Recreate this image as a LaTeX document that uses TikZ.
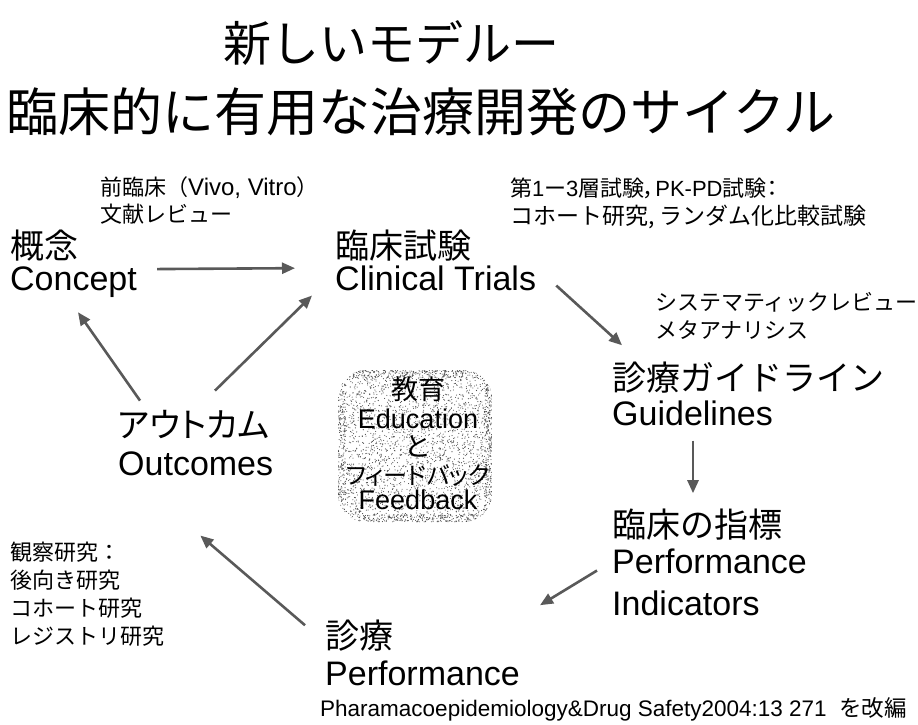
\documentclass[tikz,border=0pt]{standalone}
\usepackage{fontspec}
\setmainfont{Liberation Sans}
\newfontfamily\jp{Noto Sans CJK JP}
\newfontfamily\jpp[RawFeature=+palt]{Noto Sans CJK JP}
\newcommand\J[1]{{\jp #1}}
\usetikzlibrary{arrows.meta,calc}
\tikzset{
  big/.style={anchor=base west, inner sep=0pt, font=\fontsize{34}{40}\selectfont},
  bigj/.style={anchor=base west, inner sep=0pt, font=\jp\fontsize{34}{40}\selectfont},
  note/.style={anchor=base west, inner sep=0pt, font=\jp\fontsize{22}{26}\selectfont},
  boxtxt/.style={anchor=base, inner sep=0pt, font=\fontsize{27}{30}\selectfont},
  boxtxtj/.style={anchor=base, inner sep=0pt, font=\jp\fontsize{27}{30}\selectfont},
  flow/.style={draw=black!65, line width=2.6pt, -{Triangle[length=13pt,width=11pt]}},
  dot/.style={fill=black!70, sharp corners},
}
\begin{document}
\begin{tikzpicture}[x=1pt,y=-1pt]
\useasboundingbox (0,0) rectangle (918,724);
\fill[white] (0,0) rectangle (918,724);
\pgfmathsetseed{7}
% title
\node[anchor=base, inner sep=0pt, font=\jp\fontsize{48}{50}\selectfont] (t1) at (391,61) {新しいモデルー};
\node[anchor=base, inner sep=0pt, font=\jp\fontsize{52}{54}\selectfont] (t2) at (421,131) {臨床的に有用な治療開発のサイクル};
% centre box
\node[rounded corners=28pt, minimum width=154pt, minimum height=152pt, fill=white,
  path picture={
    \foreach \i in {1,...,2600}{
      \fill[dot] ($(path picture bounding box.center)+({77*rand},{76*rand})$) circle (0.55);
    }
    \foreach \i in {1,...,450}{
      \fill[dot] ($(path picture bounding box.center)+({77*rand},{76*(2*rnd>1?1:-1)*(1-0.1*rnd)})$) circle (0.55);
      \fill[dot] ($(path picture bounding box.center)+({77*(2*rnd>1?1:-1)*(1-0.1*rnd)},{76*rand})$) circle (0.55);
    }
  }] (edu) at (415,446) {};
\node[boxtxtj] (eduj) at (418,399) {教育};
\node[boxtxt] (edue) at (418,428) {Education};
\node[boxtxtj] (to) at (418,456) {と};
\node[anchor=base, inner sep=0pt, font=\jpp\fontsize{24}{28}\selectfont] (fbj) at (418,484) {フィードバック};
\node[boxtxt] (fbe) at (418,509) {Feedback};
% main stages
\node[bigj] (conceptJ) at (10,258) {概念};
\node[big] (conceptEn) at (10,290) {Concept};
\node[bigj] (trialsJ) at (335,258) {臨床試験};
\node[big] (trialsEn) at (335,290) {Clinical Trials};
\node[bigj] (guideJ) at (612,390) {診療ガイドライン};
\node[big] (guideEn) at (612,425) {Guidelines};
\node[bigj] (indicJ) at (612,537) {臨床の指標};
\node[big] (perfIEn) at (612,573) {Performance};
\node[big] (indicEn) at (612,615) {Indicators};
\node[bigj] (perfJ) at (325,648) {診療};
\node[big] (perfEn) at (325,685) {Performance};
\node[bigj, font=\jpp\fontsize{34}{40}\selectfont] (outJ) at (118,437) {アウトカム};
\node[big] (outEn) at (118,475) {Outcomes};
% annotations
\node[note] (n1a) at (100,195) {前臨床（{\fontspec{Liberation Sans}\fontsize{24}{26}\selectfont Vivo, Vitro}）};
\node[note] (n1b) at (100,222) {文献レビュー};
\node[note, font=\jpp\fontsize{22}{26}\selectfont] (n2a) at (510,196) {第{\fontspec{Liberation Sans}1}ー{\fontspec{Liberation Sans}3}層試験，{\fontspec{Liberation Sans}PK-PD}試験：};
\node[note, font=\jp\fontsize{23}{26}\selectfont] (n2b) at (510,224) {コホート研究, ランダム化比較試験};
\node[note] (n3a) at (655,310) {システマティックレビュー};
\node[note] (n3b) at (655,338) {メタアナリシス};
\node[note] (n4a) at (10,560) {観察研究：};
\node[note] (n4b) at (10,588) {後向き研究};
\node[note] (n4c) at (10,616) {コホート研究};
\node[note] (n4d) at (10,644) {レジストリ研究};
% footer
\node[anchor=base west, inner sep=0pt, font=\fontsize{22.5}{25}\selectfont] (foot) at (320,716) {Pharamacoepidemiology\&Drug Safety2004:13 271\ \ \J{を改編}};
% connectors
\draw[flow] ($(conceptEn.north east)+(20,3)$) -- ($(trialsEn.north west)+(-40,3)$);
\draw[flow] ($(trialsEn.south east)+(20,-5)$) -- ($(guideJ.north west)+(10,-16)$);
\draw[flow] ($(guideEn.south west)+(81,15)$) -- ($(indicJ.north west)+(81,-15)$);
\draw[flow] ($(perfIEn.south west)+(-15,-3)$) -- ($(perfEn.north east)+(20,-55)$);
\draw[flow] ($(perfJ.north west)+(-20,6)$) -- ($(outEn.south east)+(-73,60)$);
\draw[flow] ($(outJ.north west)+(22,-9)$) -- ($(conceptEn.south west)+(68,15)$);
\draw[flow] ($(outJ.north west)+(97,-19)$) -- ($(trialsEn.south west)+(-23,5)$);
\end{tikzpicture}
\end{document}
